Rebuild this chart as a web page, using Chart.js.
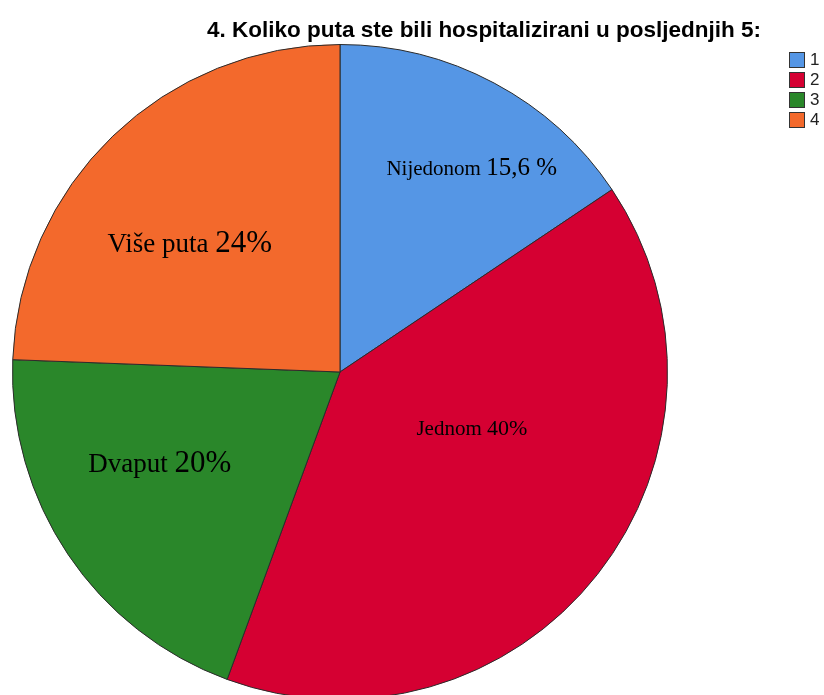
<!DOCTYPE html>
<html>
<head>
<meta charset="utf-8">
<script src="https://cdn.jsdelivr.net/npm/chart.js@4.4.0/dist/chart.umd.min.js"></script>
<style>
  html, body { margin: 0; padding: 0; background: #fff; overflow: hidden; }
  #wrap { position: relative; width: 824px; height: 720px; }
</style>
</head>
<body>
<div id="wrap"><canvas id="pie-chart"></canvas></div>
<script>
// Pie chart - hospitalizacije

var categories = ["1", "2", "3", "4"];
var values = [15.6, 40, 20, 24.4];
var sliceNames = ["Nijedonom ", "Jednom ", "Dvaput ", "Više puta "];
var sliceValues = ["15,6 %", "40%", "20%", "24%"];
var colors = ["#5596e5", "#d50032", "#2a872a", "#f3692c"];
var title = "4. Koliko puta ste bili hospitalizirani u posljednjih 5:";

// label placement: [angle from 12 o'clock in degrees, fraction of radius, name size, value size]
var labelPlace = [
  [33.8, 0.723, 21, 25],
  [115.5, 0.446, 21, 22],
  [241.0, 0.629, 27, 31],
  [308.6, 0.587, 27, 31]
];

var extras = {
  id: 'extras',
  afterDraw: function(chart) {
    var ctx = chart.ctx;
    ctx.save();
    // title
    ctx.fillStyle = '#000';
    ctx.font = 'bold 22.5px "Liberation Sans", Arial, sans-serif';
    ctx.textAlign = 'center';
    ctx.textBaseline = 'middle';
    ctx.fillText(title, 484, 31);

    // legend
    ctx.textAlign = 'left';
    ctx.font = '17px "Liberation Sans", Arial, sans-serif';
    categories.forEach(function(c, i) {
      var y = 52 + i * 20;
      ctx.fillStyle = colors[i];
      ctx.fillRect(789, y, 15, 15);
      ctx.strokeStyle = '#333';
      ctx.lineWidth = 1;
      ctx.strokeRect(789.5, y + 0.5, 15, 15);
      ctx.fillStyle = '#222';
      ctx.fillText(c, 810, y + 8);
    });

    // slice labels
    var arcs = chart.getDatasetMeta(0).data;
    ctx.textBaseline = 'alphabetic';
    arcs.forEach(function(arc, i) {
      var p = labelPlace[i];
      var a = p[0] * Math.PI / 180;
      var r = arc.outerRadius * p[1];
      var x = arc.x + Math.sin(a) * r;
      var y = arc.y - Math.cos(a) * r;
      var f1 = p[2] + 'px "Liberation Serif", "Times New Roman", serif';
      var f2 = p[3] + 'px "Liberation Serif", "Times New Roman", serif';
      ctx.font = f1;
      var w1 = ctx.measureText(sliceNames[i]).width;
      ctx.font = f2;
      var w2 = ctx.measureText(sliceValues[i]).width;
      var sx = x - (w1 + w2) / 2;
      ctx.fillStyle = '#000';
      ctx.font = f1;
      ctx.fillText(sliceNames[i], sx, y);
      ctx.font = f2;
      ctx.fillText(sliceValues[i], sx + w1, y);
    });
    ctx.restore();
  }
};

new Chart(document.getElementById("pie-chart"), {
  type: 'pie',
  data: {
    labels: categories,
    datasets: [{
      data: values,
      backgroundColor: colors,
      borderColor: '#2b2b2b',
      borderWidth: 1
    }]
  },
  options: {
    responsive: true,
    maintainAspectRatio: false,
    animation: false,
    layout: { padding: { left: 12, right: 156, top: 44, bottom: 20 } },
    plugins: {
      legend: { display: false },
      title: { display: false },
      tooltip: { enabled: false }
    }
  },
  plugins: [extras]
});
</script>
</body>
</html>
